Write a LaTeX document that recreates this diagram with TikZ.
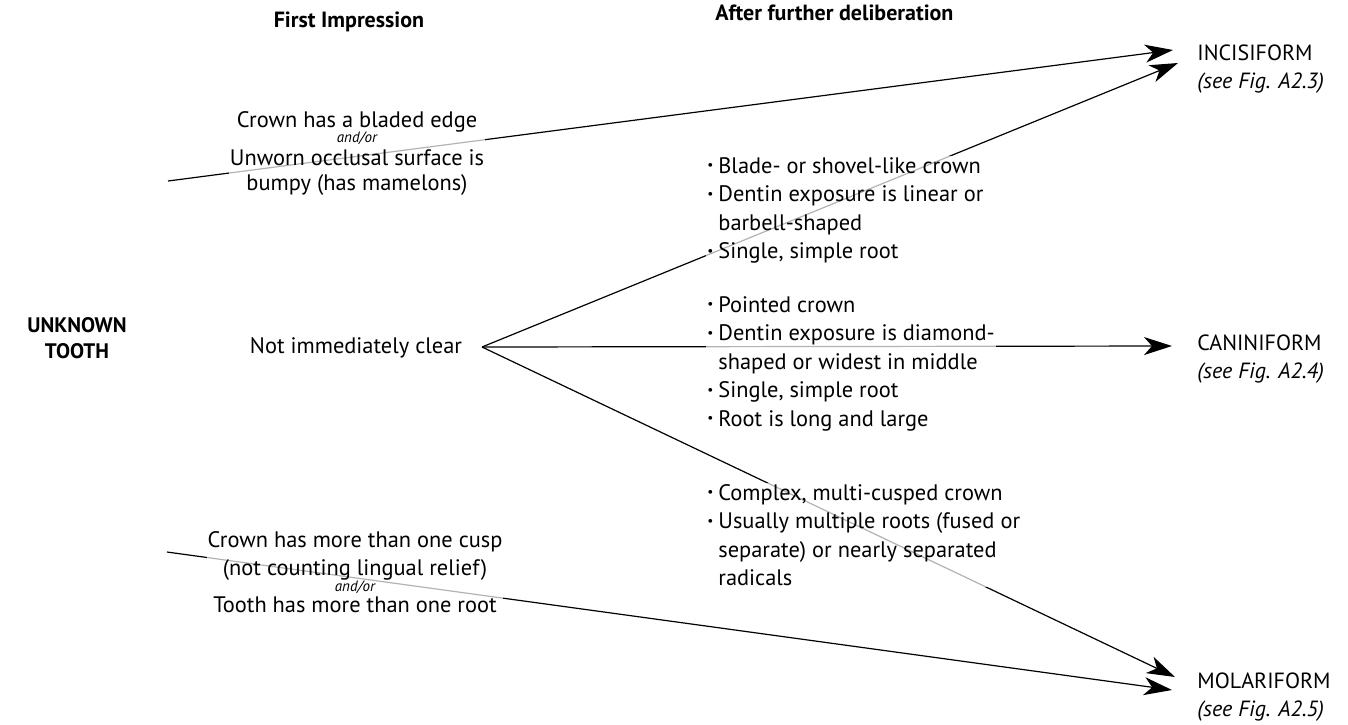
\documentclass[tikz,border=0pt]{standalone}
\usepackage{fontspec}
\setmainfont{PT Sans}
\usetikzlibrary{arrows.meta}

% small bullet and the hanging indent of the notes
\newcommand{\bul}{\makebox[5.5pt][l]{\raisebox{0.3ex}{\scalebox{0.6}{\textbullet}}}}
\newcommand{\hang}{\hspace*{5.5pt}}
\newcommand{\andor}{{\fontsize{7.5}{8}\selectfont\itshape and/or}}

\tikzset{
    body/.style={font=\fontsize{11.2}{14.25}\selectfont, inner sep=0.5pt,
        fill=white, fill opacity=0.7, text opacity=1},
    head/.style={font=\fontsize{11}{13}\selectfont\bfseries, inner sep=0pt},
    goal/.style={font=\fontsize{11}{14}\selectfont, inner sep=0pt, align=left, anchor=base west},
    lead/.style={line width=0.6pt, -{Stealth[length=14pt, width=9pt, inset=4pt]}}
}

\begin{document}
\begin{tikzpicture}[x=0.5pt, y=-0.5pt]
    \useasboundingbox (0,0) rectangle (1348,724);

    % free ends of the connectors
    \coordinate (top) at (168,181);
    \coordinate (fork) at (482,347);
    \coordinate (low) at (167,552);
    \coordinate (incA) at (1173,50);
    \coordinate (incB) at (1178,63);
    \coordinate (canA) at (1172,346);
    \coordinate (molA) at (1175,677);
    \coordinate (molB) at (1172,690);

    % connectors
    \draw[lead] (top) -- (incA);
    \draw[lead] (fork) -- (incB);
    \draw[lead] (fork) -- (canA);
    \draw[lead] (fork) -- (molA);
    \draw[lead] (low) -- (molB);

    % headings (base = last line)
    \node[head, anchor=base] (first) at (349,27) {First Impression};
    \node[head, anchor=base west] (after) at (715,20) {After further deliberation};
    \node[head, anchor=base, align=center, font=\fontsize{10.5}{13}\selectfont\bfseries] (unk) at (77,358) {UNKNOWN\\TOOTH};

    % first impressions
    \node[body, anchor=base, align=center] (blade) at (357,190)
        {Crown has a bladed edge\\[-6.75pt]\andor\\[-2.75pt]Unworn occlusal surface is\\[-1.75pt]bumpy (has mamelons)};
    \node[body, anchor=base] (unclear) at (356,353) {Not immediately clear};
    \node[body, anchor=base, align=center] (cusp) at (355,612)
        {Crown has more than one cusp\\[-0.25pt](not counting lingual relief)\\[-6.25pt]\andor\\[-3.75pt]Tooth has more than one root};

    % notes after deliberation
    \node[body, anchor=base west, align=left] (incnote) at (706,258.5)
        {\bul Blade- or shovel-like crown\\\bul Dentin exposure is linear or\\\hang barbell-shaped\\\bul Single, simple root};
    \node[body, anchor=base west, align=left] (cannote) at (706,426)
        {\bul Pointed crown\\\bul Dentin exposure is diamond-\\\hang shaped or widest in middle\\\bul Single, simple root\\\bul Root is long and large};
    \node[body, anchor=base west, align=left] (molnote) at (706,585.5)
        {\bul Complex, multi-cusped crown\\\bul Usually multiple roots (fused or\\\hang separate) or nearly separated\\\hang radicals};

    % tooth classes
    \node[goal] (inc) at (1197,88) {INCISIFORM\\\textit{(see Fig. A2.3)}};
    \node[goal] (can) at (1197,378) {CANINIFORM\\\textit{(see Fig. A2.4)}};
    \node[goal] (mol) at (1197,716) {MOLARIFORM\\\textit{(see Fig. A2.5)}};
\end{tikzpicture}
\end{document}
